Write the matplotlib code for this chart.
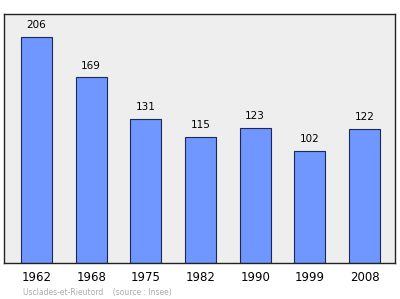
import matplotlib.pyplot as plt

years = ["1962", "1968", "1975", "1982", "1990", "1999", "2008"]
population = [206, 169, 131, 115, 123, 102, 122]

fig = plt.figure(figsize=(4, 2.99), dpi=100)
ax = fig.add_axes([0.01, 0.1204, 0.9775, 0.8326])
ax.set_facecolor("#eeeeee")

x = range(len(years))
ax.bar(x, population, width=0.57, color="#7096ff", edgecolor="#1a2a55", linewidth=0.8)
for i, v in enumerate(population):
    ax.text(i, v + 6, str(v), ha="center", va="bottom", fontsize=7.5)

ax.set_xlim(-0.594, 6.558)
ax.set_ylim(0, 226.5)
ax.set_xticks(list(x))
ax.set_xticklabels(years, fontsize=8.5)
ax.set_yticks([])
ax.tick_params(axis="x", length=0, pad=6)
for s in ax.spines.values():
    s.set_color("#222222")
    s.set_linewidth(1)

fig.text(0.058, 0.012, "Usclades-et-Rieutord    (source : Insee)", fontsize=5.5, color="#aaaaaa")

fig.savefig("out.png", dpi=100)
